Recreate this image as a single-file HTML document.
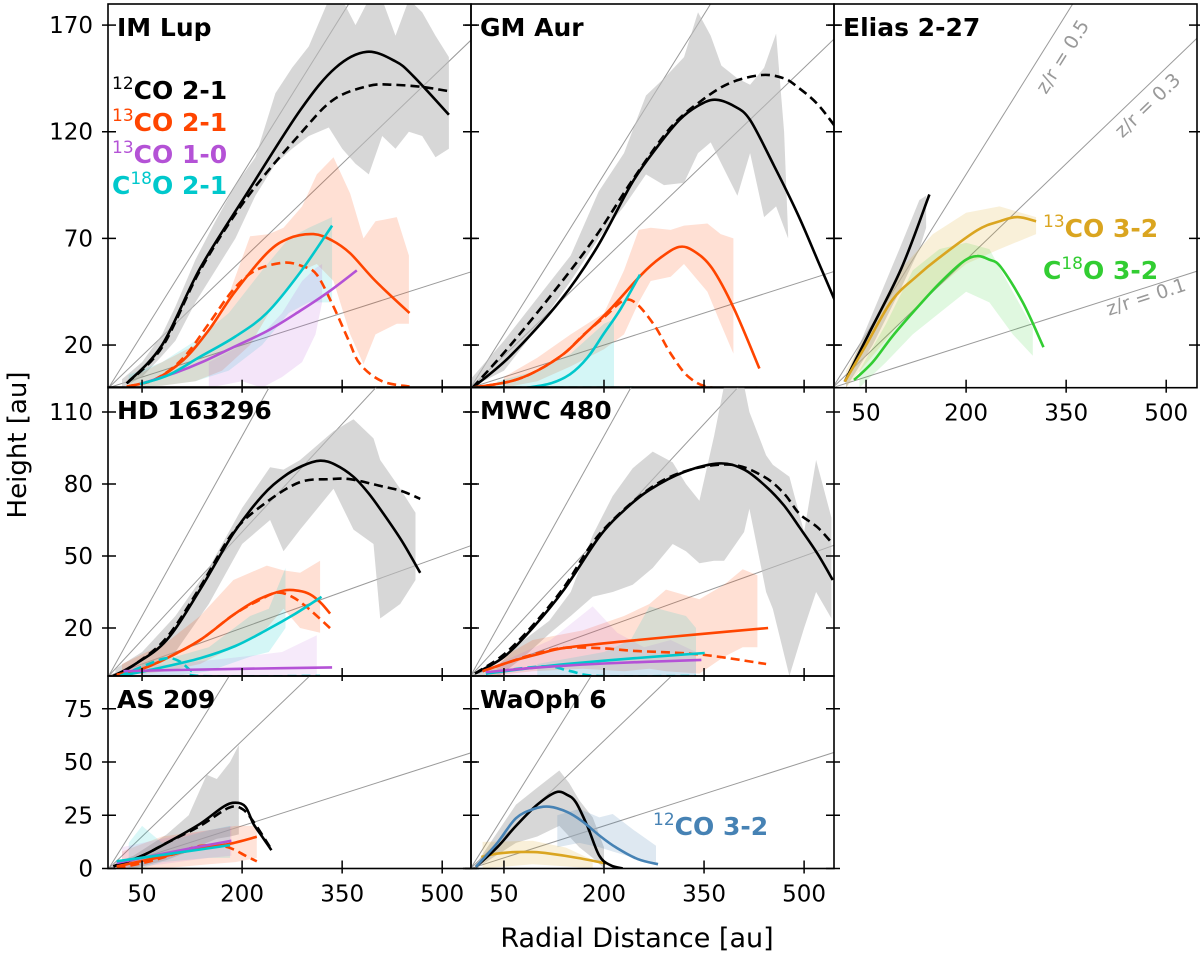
<!DOCTYPE html>
<html><head><meta charset="utf-8"><style>
html,body{margin:0;padding:0;background:#fff}
svg{display:block;font-family:"DejaVu Sans","Liberation Sans",sans-serif}
</style></head><body>
<svg id="fig" width="1200" height="954" viewBox="0 0 1200 954" xmlns="http://www.w3.org/2000/svg">
<text x="0" y="0" transform="translate(26,445) rotate(-90)" text-anchor="middle" font-size="26">Height [au]</text>
<text x="637" y="947" text-anchor="middle" font-size="27">Radial Distance [au]</text>
</svg>
<script>
// ---- data (r [au], z [au]) ----
const xTickVals = [50, 200, 350, 500];
const yTicksRow1 = [20, 70, 120, 170];
const yTicksRow2 = [20, 50, 80, 110];
const yTicksRow3 = [0, 25, 50, 75];
const zrRatios = [0.1, 0.3, 0.5];

const IMLUP_12CO = [[27,2],[80,20],[137,56],[207,91],[287,130],[340,150],[387,157.5],[430,153],[457,146],[510,128]];
const IMLUP_12CO_D = [[27,2],[80,19],[137,55],[207,89],[287,119],[337,135],[390,141.5],[427,142],[470,141],[510,139]];
const IMLUP_13CO = [[27,0.5],[70,4],[112,13],[150,27],[187,44],[237,63],[270,70],[307,72],[335,69],[362,63],[400,50],[451,35]];
const IMLUP_13CO_D = [[27,0.5],[70,4],[112,14],[150,30],[187,46],[220,55],[262,58.6],[290,57],[312,53],[337,38],[360,22],[377,11],[410,3],[451,0.5]];
const IMLUP_C18O = [[47,1.7],[90,6],[137,14.5],[190,24],[237,35],[287,54],[335,76]];
const IMLUP_13CO10 = [[47,1.7],[100,7],[140,12],[187,19],[240,27],[287,36],[330,45],[372,55]];
const IMLUP_12CO_BAND = [[20,0,4],[50,5,12],[80,15,25],[100,22,38],[130,40,60],[160,55,78],[190,70,95],[220,90,108],[250,105,138],[275,112,150],[300,118,160],[330,122,182],[350,112,182],[370,105,170],[390,100,182],[410,118,182],[430,112,165],[450,120,182],[470,118,176],[490,108,165],[510,112,155]];
const IMLUP_13CO_BAND = [[30,0,4],[80,1,12],[130,3,20],[170,8,35],[212,20,71],[240,35,72],[262,45,75],[290,55,85],[312,58,100],[337,50,108],[362,25,91],[382,11,70],[400,25,78],[432,30,80],[450,30,62]];
const IMLUP_C18O_BAND = [[30,0,6],[80,1,12],[130,3,22],[180,8,35],[230,20,55],[270,35,70],[300,40,75],[335,40,80]];
const IMLUP_13CO10_BAND = [[150,0,12],[200,3,20],[230,0,25],[260,5,35],[290,12,50],[310,25,56],[320,40,58]];

const GMAUR_12CO = [[3,0],[60,15],[135,41],[190,66],[242,96],[280,113],[313,125.5],[340,132],[366,135],[395,132],[419,125.5],[455,104],[490,81.7],[520,60],[550,38]];
const GMAUR_12CO_D = [[3,0],[60,20],[135,49],[190,72],[242,97],[300,122],[348,135],[390,143],[437,146.6],[470,145],[490,141],[520,133],[550,121]];
const GMAUR_13CO = [[3,0],[60,3],[100,8],[140,16],[170.6,25],[210,37],[256,53],[285,61],[312.7,66],[335,64],[362,56],[395,37],[433,9]];
const GMAUR_13CO_D = [[3,0],[60,3],[100,8],[140,16],[170,25],[200,33],[230,41],[250,39],[277,28.5],[300,16],[327,5],[362,0],[430,0]];
const GMAUR_C18O = [[85,0],[120,2],[149,6.3],[175,14],[199,25],[225,37],[254,53]];
const GMAUR_C18O_D = [[0,0],[252,0]];
const GMAUR_12CO_BAND = [[0,0,4],[50,8,22],[100,28,42],[150,50,62],[192,70,92],[230,85,110],[263,100,137],[290,95,145],[320,96,155],[341,110,176],[360,115,165],[376,105,151],[400,90,145],[419,110,142],[440,80,150],[458,85,166],[470,75,120],[476,70,72]];
const GMAUR_13CO_BAND = [[50,0,5],[100,3,14],[150,10,25],[200,18,35],[230,25,55],[252,40,74],[270,50,75],[300,52,74],[320,58,76],[355,45,77],[375,30,72],[394,16,70]];
const GMAUR_C18O_BAND = [[40,0,3],[100,0,8],[150,0,16],[200,0,30],[215,0,32]];

const ELIAS_12CO = [[18,2.8],[53.6,25],[103,56],[145,90.6]];
const ELIAS_13CO32 = [[18,2.8],[50,20],[89,41],[125,52],[160,61],[216.6,73.8],[250,78],[277,80],[305,78]];
const ELIAS_C18O32 = [[32,3.6],[60,12],[89,23.9],[125,37],[160,48.9],[195,59],[216.6,61.7],[235,60],[252,56.6],[285,40],[316,19]];
const ELIAS_12CO_BAND = [[20,0,5],[60,20,35],[100,45,65],[130,65,88],[140,75,90]];
const ELIAS_13CO32_BAND = [[20,0,8],[60,15,30],[100,30,55],[150,45,72],[200,58,82],[250,65,85],[305,72,80]];
const ELIAS_C18O32_BAND = [[40,0,8],[80,12,30],[120,25,55],[160,35,65],[200,45,68],[235,40,65],[270,25,45],[300,15,28]];

const HD_12CO = [[7,0],[40,5],[87,15],[137,36],[187,59.4],[230,75],[262,83],[290,87.5],[317,89.7],[340,88],[367,83],[390,76],[412,67.6],[440,56],[467,43]];
const HD_12CO_D = [[7,0],[40,5],[87,16],[137,37],[187,60],[237,72.5],[287,80.8],[330,82],[362,82],[410,79],[440,77],[467,73.8]];
const HD_13CO = [[12,0.5],[50,3],[87,7.4],[137,15],[187,25.5],[225,32],[262,35.6],[285,35.5],[302,34],[318,30.5],[332,26]];
const HD_13CO_D = [[12,0.5],[50,3],[87,7.4],[137,15],[187,25.5],[225,31.5],[252,34.7],[275,33],[300,28],[332,19.9]];
const HD_C18O = [[17,0],[70,3],[137,7.4],[190,12.5],[237,19.2],[280,26],[319,33]];
const HD_C18O_D = [[17,0],[60,5],[87,7.4],[107,6],[122,2.5],[137,0],[317,0]];
const HD_13CO10 = [[22,2],[100,2.5],[200,3],[335,3.6]];
const HD_12CO_BAND = [[10,0,3],[50,3,10],[100,10,25],[150,30,45],[200,55,70],[242,65,87],[262,52,86],[287,61,90],[337,78,102],[367,61,107],[397,55,99],[407,24,90],[437,30,78],[460,40,68]];
const HD_13CO_BAND = [[20,0,5],[87,2,14],[137,5,25],[187,12,40],[237,20,46],[262,28,44],[287,20,43],[317,18,48]];
const HD_C18O_BAND = [[50,0,5],[100,0,8],[150,2,12],[212,8,25],[240,10,28],[265,20,45]];
const HD_13CO10_BAND = [[30,0,4],[100,0,5],[200,0,8],[260,0,10],[312,0,17]];

const MWC_12CO = [[6.6,1],[50,8],[93,20],[140,36],[193,58],[230,69],[268,77.5],[320,85],[373,88.6],[410,86],[443,78.9],[470,71],[493,62],[520,51],[543,40]];
const MWC_12CO_D = [[6.6,1],[50,9],[93,21],[140,37],[193,59],[268,78],[330,86],[393,88],[440,83],[470,76],[493,67.6],[520,62],[543,55]];
const MWC_13CO = [[18,2],[60,6],[100,9],[143,11.8],[250,15],[343,17.4],[446,20]];
const MWC_13CO_D = [[18,2],[60,6],[100,9.5],[143,11.8],[200,11.5],[243,10.5],[343,9],[443,5]];
const MWC_C18O = [[23,1],[80,3],[143,5],[250,7.5],[351,9.6]];
const MWC_C18O_D = [[23,1],[70,3],[118,4],[150,2],[193,0],[338,0]];
const MWC_13CO10 = [[23,1.6],[100,3.5],[200,5.2],[346,6.7]];
const MWC_12CO_BAND = [[10,0,2],[43,0,5],[80,8,15],[118,17.6,23],[150,25,35],[183,33,58.7],[213,35,75],[243,38,86.6],[273,45,93.5],[303,55,89],[323,52,80],[343,47,73],[365,48,100],[380,48,121],[410,60,121],[418,69.7,110],[443,35,92],[453,28,88],[478,0,83],[500,20,60],[518,35,90],[541,24,66]];
const MWC_13CO_BAND = [[30,0,5],[93,2,15],[168,3,19],[230,2,25],[268,3,30],[293,2,36],[343,1,32],[380,8,38],[408,12,44.5],[430,12,42]];
const MWC_13CO10_BAND = [[40,0,5],[120,0,15],[183,0,29],[220,0,18],[260,0,12],[300,0,15],[338,0,10]];
const MWC_C18O_BAND = [[100,0,5],[200,0,10],[240,0,15],[268,0,29],[323,0,25],[338,0,20]];

const AS_12CO = [[7,1],[50,6],[87,12],[137,21],[172,29],[190,30.9],[205,29],[217,21],[230,15],[244,8.6]];
const AS_12CO_D = [[7,1],[50,6],[87,12],[137,20],[180,28.5],[200,28],[217,22],[244,9]];
const AS_13CO = [[12,1],[87,6],[137,9.5],[180,11.5],[222,14.9]];
const AS_13CO_D = [[12,0],[62,3.4],[100,7],[137,10.6],[170,10.5],[187,9],[205,6],[222,3.4]];
const AS_C18O = [[12,3.4],[60,5.5],[137,8.9],[182,11]];
const AS_13CO10 = [[12,2.6],[87,7.3],[140,10.5],[184,13]];
const AS_12CO_BAND = [[5,0,2],[37,0,6],[87,4,16],[120,8,25],[147,12,44],[162,14,42],[182,15,50],[195,16,58]];
const AS_13CO_BAND = [[20,0,8],[80,0,15],[150,2,18],[190,3,20],[222,5,20]];
const AS_C18O_BAND = [[30,0,12],[50,0,20],[80,3,12],[150,5,18],[182,5,20]];
const AS_13CO10_BAND = [[20,0,10],[80,2,14],[150,5,18],[184,6,20]];

const WA_12CO = [[8,0.8],[40,10],[68,20],[100,30],[128,35.8],[145,34.5],[158,31],[175,20],[193,6],[210,1.5],[228,0]];
const WA_12CO32 = [[8,0.8],[40,12],[68,23.6],[95,28],[118,29],[145,26.5],[168,22],[195,15],[218,9.9],[250,4.5],[281,2]];
const WA_13CO32 = [[16,5.4],[40,7],[68,7.7],[95,7.7],[118,7],[160,5],[203,2.4]];
const WA_12CO_BAND = [[8,0,2],[68,12,30],[100,15,38],[133,20,46],[148,15,40],[163,10,32],[183,5,24],[200,0,10]];
const WA_12CO32_BAND = [[130,10,25],[163,12,28],[193,10,24],[213,8,25.6],[245,5,18],[278,3,10.7]];
const WA_13CO32_BAND = [[18,0,12.5],[93,2,13],[143,1,9.8],[183,0,4]];

// ---- layout ----
const C = {k:'#000000', r:'#ff4500', p:'#b452d6', c:'#00c8cc', g:'#daa520', l:'#32cd32', b:'#4682b4', gray:'#bdbdbd'};
const colLeft = [108, 471, 834], colX0 = [108.7, 470.6, 832.7], colW = 363, PX_R = 0.667;
const rowTop = [4, 387, 676], rowBot = [387.7, 676, 868.5], PX_Z = [2.133, 2.4, 2.13];
const rowTicks = [yTicksRow1, yTicksRow2, yTicksRow3];

const panels = [
 {id:'im-lup', title:'IM Lup', col:0, row:0, xlab:false, ylab:true,
  bands:[[IMLUP_12CO_BAND,C.gray,0.6],[IMLUP_13CO_BAND,C.r,0.17],[IMLUP_C18O_BAND,C.c,0.15],[IMLUP_13CO10_BAND,C.p,0.15]],
  lines:[[IMLUP_12CO,C.k,0],[IMLUP_12CO_D,C.k,1],[IMLUP_13CO,C.r,0],[IMLUP_13CO_D,C.r,1],[IMLUP_13CO10,C.p,0],[IMLUP_C18O,C.c,0]]},
 {id:'gm-aur', title:'GM Aur', col:1, row:0, xlab:false, ylab:false,
  bands:[[GMAUR_12CO_BAND,C.gray,0.6],[GMAUR_13CO_BAND,C.r,0.17],[GMAUR_C18O_BAND,C.c,0.17]],
  lines:[[GMAUR_12CO,C.k,0],[GMAUR_12CO_D,C.k,1],[GMAUR_13CO,C.r,0],[GMAUR_13CO_D,C.r,1],[GMAUR_C18O,C.c,0],[GMAUR_C18O_D,C.c,1]]},
 {id:'elias-2-27', title:'Elias 2-27', col:2, row:0, xlab:true, ylab:false,
  bands:[[ELIAS_12CO_BAND,C.gray,0.6],[ELIAS_13CO32_BAND,C.g,0.17],[ELIAS_C18O32_BAND,C.l,0.15]],
  lines:[[ELIAS_12CO,C.k,0],[ELIAS_13CO32,C.g,0],[ELIAS_C18O32,C.l,0]]},
 {id:'hd-163296', title:'HD 163296', col:0, row:1, xlab:false, ylab:true,
  bands:[[HD_12CO_BAND,C.gray,0.6],[HD_13CO_BAND,C.r,0.17],[HD_C18O_BAND,C.c,0.17],[HD_13CO10_BAND,C.p,0.12]],
  lines:[[HD_12CO,C.k,0],[HD_12CO_D,C.k,1],[HD_13CO,C.r,0],[HD_13CO_D,C.r,1],[HD_C18O,C.c,0],[HD_C18O_D,C.c,1],[HD_13CO10,C.p,0]]},
 {id:'mwc-480', title:'MWC 480', col:1, row:1, xlab:false, ylab:false,
  bands:[[MWC_12CO_BAND,C.gray,0.6],[MWC_13CO_BAND,C.r,0.17],[MWC_13CO10_BAND,C.p,0.12],[MWC_C18O_BAND,C.c,0.15]],
  lines:[[MWC_12CO,C.k,0],[MWC_12CO_D,C.k,1],[MWC_13CO,C.r,0],[MWC_13CO_D,C.r,1],[MWC_C18O,C.c,0],[MWC_C18O_D,C.c,1],[MWC_13CO10,C.p,0]]},
 {id:'as-209', title:'AS 209', col:0, row:2, xlab:true, ylab:true,
  bands:[[AS_12CO_BAND,C.gray,0.6],[AS_13CO_BAND,C.r,0.15],[AS_C18O_BAND,C.c,0.15],[AS_13CO10_BAND,C.p,0.12]],
  lines:[[AS_12CO,C.k,0],[AS_12CO_D,C.k,1],[AS_13CO,C.r,0],[AS_13CO_D,C.r,1],[AS_13CO10,C.p,0],[AS_C18O,C.c,0]]},
 {id:'waoph-6', title:'WaOph 6', col:1, row:2, xlab:true, ylab:false,
  bands:[[WA_12CO_BAND,C.gray,0.6],[WA_12CO32_BAND,C.b,0.18],[WA_13CO32_BAND,C.g,0.17]],
  lines:[[WA_13CO32,C.g,0],[WA_12CO,C.k,0],[WA_12CO32,C.b,0]]}
];

const NS = 'http://www.w3.org/2000/svg';
const svg = document.getElementById('fig');
function mk(tag, attrs, parent){ const e=document.createElementNS(NS,tag); for(const k in attrs) e.setAttribute(k,attrs[k]); (parent||svg).appendChild(e); return e; }
function smooth(pts){
  if(pts.length<3) return 'M'+pts.map(p=>p[0].toFixed(1)+','+p[1].toFixed(1)).join(' L');
  let d='M'+pts[0][0].toFixed(1)+','+pts[0][1].toFixed(1);
  for(let i=0;i<pts.length-1;i++){
    const p0=pts[Math.max(0,i-1)],p1=pts[i],p2=pts[i+1],p3=pts[Math.min(pts.length-1,i+2)];
    const c1=[p1[0]+(p2[0]-p0[0])/6,p1[1]+(p2[1]-p0[1])/6], c2=[p2[0]-(p3[0]-p1[0])/6,p2[1]-(p3[1]-p1[1])/6];
    d+=' C'+c1[0].toFixed(1)+','+c1[1].toFixed(1)+' '+c2[0].toFixed(1)+','+c2[1].toFixed(1)+' '+p2[0].toFixed(1)+','+p2[1].toFixed(1);
  }
  return d;
}

panels.forEach((P,pi)=>{
  const L=colLeft[P.col], T=rowTop[P.row], B=rowBot[P.row], x0=colX0[P.col], pz=PX_Z[P.row];
  const xs = r => x0 + r*PX_R;
  const ys = z => B - z*pz;
  const g = mk('g',{});
  
  
  const cp = mk('clipPath',{id:'clip'+pi}, g);
  mk('rect',{x:L,y:T,width:colW,height:B-T}, cp);
  const plot = mk('g',{'clip-path':'url(#clip'+pi+')'}, g);
  zrRatios.forEach(q=>{
    const ln = mk('line',{x1:xs(0),y1:ys(0),x2:xs(700),y2:ys(700*q),stroke:'#9a9a9a','stroke-width':1}, plot);
    
    
  });
  P.bands.forEach(([arr,col,op])=>{
    const top = arr.map(p=>xs(p[0]).toFixed(1)+','+ys(p[2]).toFixed(1));
    const bot = arr.slice().reverse().map(p=>xs(p[0]).toFixed(1)+','+ys(p[1]).toFixed(1));
    const poly = mk('polygon',{points:top.concat(bot).join(' '),fill:col,'fill-opacity':op,stroke:'none'}, plot);
    
    
  });
  P.lines.forEach(([arr,col,dash])=>{
    const pts = arr.map(p=>[xs(p[0]),ys(p[1])]);
    const a = {d:smooth(pts),fill:'none',stroke:col,'stroke-width':2.6};
    if(dash) a['stroke-dasharray']='9,5';
    const path = mk('path',a,plot);
    
    
  });
  const fr = mk('rect',{x:L,y:T,width:colW,height:B-T,fill:'none',stroke:'#000','stroke-width':1.6}, g);
  
  
  xTickVals.forEach(v=>{
    const X=xs(v);
    mk('line',{x1:X,y1:B-8,x2:X,y2:B+5,stroke:'#000','stroke-width':1.5}, g);
    if(P.xlab){
      const t = mk('text',{x:X,y:B+33,'text-anchor':'middle','font-size':23}, g);
      t.textContent = v;
      
      
    }
  });
  rowTicks[P.row].forEach(v=>{
    const Y=ys(v);
    mk('line',{x1:L-6,y1:Y,x2:L+8,y2:Y,stroke:'#000','stroke-width':1.5}, g);
    mk('line',{x1:L+colW-8,y1:Y,x2:L+colW+6,y2:Y,stroke:'#000','stroke-width':1.5}, g);
    if(P.ylab){
      const t = mk('text',{x:93,y:Y+8,'text-anchor':'end','font-size':23}, g);
      t.textContent = v;
      
      
    }
  });
  const tt = mk('text',{x:L+9,y:T+32,'font-size':25,'font-weight':'bold'}, g);
  tt.textContent = P.title;
  
  
});

function lab(x,y,pre,sup,post,color,name){
  const t = mk('text',{x:x,y:y,'font-size':25,'font-weight':'bold',fill:color});
  
  
  if(pre){ const a=mk('tspan',{},t); a.textContent=pre; }
  const s=mk('tspan',{'font-size':17,'font-weight':'normal',dy:-10},t); s.textContent=sup;
  const b=mk('tspan',{dy:10},t); b.textContent=post;
}
lab(112,99,'','12','CO 2-1',C.k,'legend-12co-2-1');
lab(112,131,'','13','CO 2-1',C.r,'legend-13co-2-1');
lab(112,163,'','13','CO 1-0',C.p,'legend-13co-1-0');
lab(112,194,'C','18','O 2-1',C.c,'legend-c18o-2-1');
lab(1043,237,'','13','CO 3-2',C.g,'label-13co-3-2');
lab(1043,279,'C','18','O 3-2',C.l,'label-c18o-3-2');
lab(653,835,'','12','CO 3-2',C.b,'label-12co-3-2');

[['z/r = 0.5',1068,60,-58],['z/r = 0.3',1152,110,-44],['z/r = 0.1',1148,303,-18]].forEach(([s,x,y,a])=>{
  const t = mk('text',{x:0,y:0,transform:'translate('+x+','+y+') rotate('+a+')','text-anchor':'middle','font-size':19,fill:'#999'});
  t.textContent = s;
  
  
});
</script>
</body></html>
